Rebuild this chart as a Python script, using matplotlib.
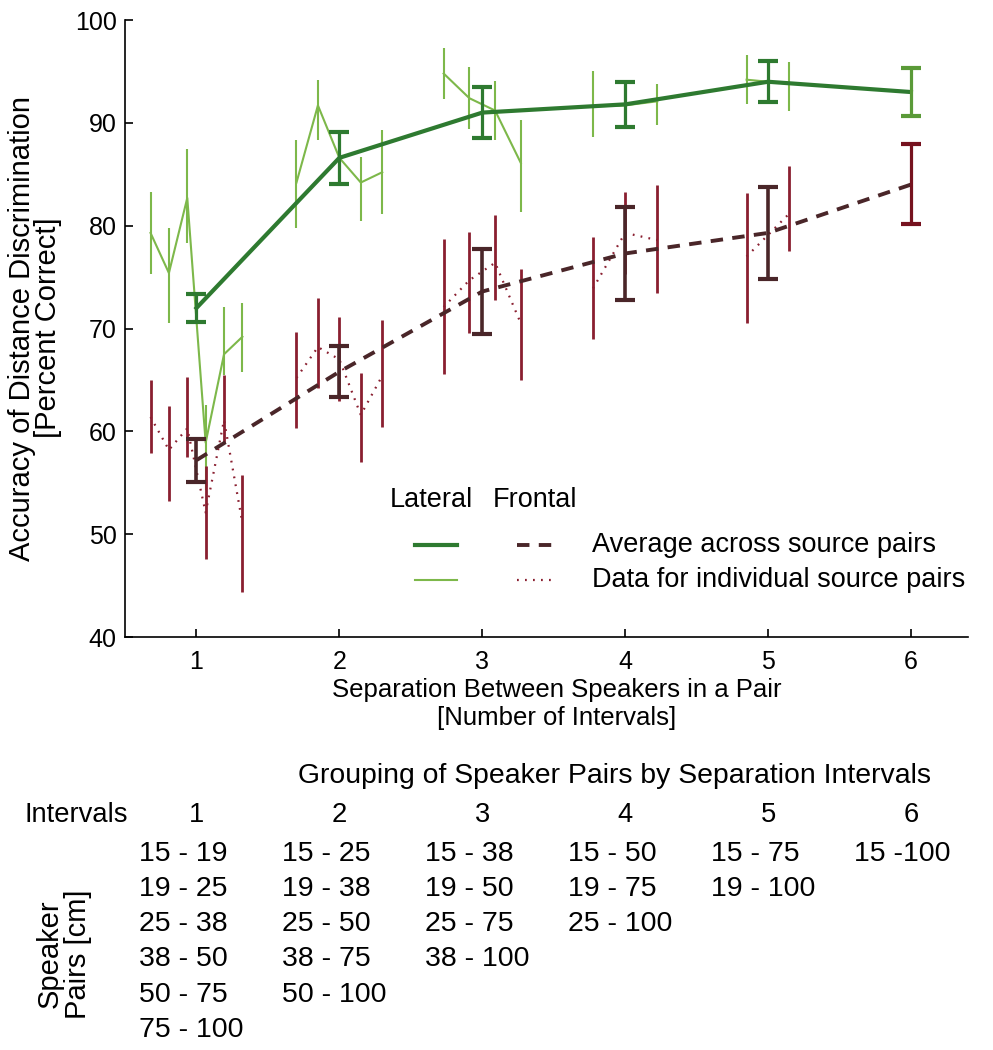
"""Distance discrimination accuracy vs speaker separation (lateral / frontal)."""
import numpy as np
import matplotlib
matplotlib.use("Agg")
import matplotlib.pyplot as plt
from matplotlib.transforms import blended_transform_factory

plt.rcParams["font.family"] = ["Liberation Sans", "DejaVu Sans"]

SEPARATIONS = [1, 2, 3, 4, 5, 6]

# average across source pairs (mean, half-width of error bar)
LAT_AVG = [72.0, 86.6, 91.0, 91.8, 94.0, 93.0]
LAT_AVG_ERR = [1.4, 2.5, 2.5, 2.2, 2.0, 2.3]
FRO_AVG = [57.2, 65.8, 73.6, 77.3, 79.3, 84.0]
FRO_AVG_ERR = [2.1, 2.5, 4.1, 4.5, 4.5, 3.8]

# individual source pairs, one list per separation
LAT_PAIR = [[79.3, 75.4, 82.7, 58.9, 67.5, 69.2],
            [84.2, 91.7, 86.6, 84.2, 85.2],
            [94.8, 92.4, 91.2, 86.1],
            [91.6, 91.7, 92.1],
            [94.2, 93.8],
            [93.0]]
LAT_PAIR_LO = [[75.3, 70.5, 78.3, 54.3, 65.5, 65.8],
               [79.8, 88.3, 84.5, 80.5, 81.1],
               [92.3, 89.4, 88.3, 81.3],
               [88.6, 89.8, 89.8],
               [91.8, 91.2],
               [90.7]]
LAT_PAIR_HI = [[83.3, 79.8, 87.5, 62.6, 72.1, 72.5],
               [88.3, 94.2, 88.7, 86.7, 89.3],
               [97.3, 95.4, 94.1, 90.3],
               [95.0, 93.6, 93.8],
               [96.6, 95.9],
               [95.3]]

FRO_PAIR = [[61.4, 58.2, 60.3, 52.1, 61.1, 51.1],
            [65.2, 68.2, 67.0, 61.6, 65.4],
            [72.1, 74.7, 76.4, 70.5],
            [73.9, 79.3, 78.6],
            [77.0, 81.2],
            [84.0]]
FRO_PAIR_LO = [[57.9, 53.2, 57.5, 47.6, 58.9, 44.4],
               [60.3, 64.2, 63.0, 57.0, 60.4],
               [65.6, 69.6, 72.8, 65.0],
               [69.0, 75.3, 73.5],
               [70.5, 77.5],
               [80.2]]
FRO_PAIR_HI = [[65.0, 62.5, 65.3, 56.6, 65.5, 55.8],
               [69.7, 73.0, 71.1, 65.7, 70.8],
               [78.7, 79.4, 81.0, 75.8],
               [78.9, 83.3, 84.0],
               [83.2, 85.8],
               [87.9]]

# grouping table under the plot
PAIRS_CM = [["15 - 19", "19 - 25", "25 - 38", "38 - 50", "50 - 75", "75 - 100"],
            ["15 - 25", "19 - 38", "25 - 50", "38 - 75", "50 - 100"],
            ["15 - 38", "19 - 50", "25 - 75", "38 - 100"],
            ["15 - 50", "19 - 75", "25 - 100"],
            ["15 - 75", "19 - 100"],
            ["15 -100"]]

DARK_GREEN = "#2e7a30"
LIGHT_GREEN = "#7db84a"
MID_GREEN = "#5a9a38"
DARK_RED = "#8a1f30"
BROWN = "#4a2629"
MID_RED = "#76121f"


def pair_offsets(n):
    return (np.arange(n) - (n - 1) / 2) * 0.9 / (n + 1)


def draw_pairs(ax, ys, los, his, color, mid_color, line_kw):
    for sep, y, lo, hi in zip(SEPARATIONS, ys, los, his):
        y = np.asarray(y)
        xs = sep + pair_offsets(len(y))
        err = [y - np.asarray(lo), np.asarray(hi) - y]
        if len(y) == 1:
            ax.errorbar(xs, y, yerr=err, fmt="none", ecolor=mid_color,
                        elinewidth=2.3, capsize=7, capthick=3, zorder=5)
            continue
        ax.errorbar(xs, y, yerr=err, fmt="none", ecolor=color,
                    elinewidth=line_kw["bar_lw"], capsize=0, zorder=2)
        ax.plot(xs, y, color=color, lw=line_kw["lw"], ls=line_kw["ls"],
                dashes=line_kw.get("dashes", (None, None)), zorder=2)


fig = plt.figure(figsize=(9.93, 10.5), dpi=100)
ax = fig.add_axes([0.1259, 0.3933, 0.849, 0.5876])

draw_pairs(ax, LAT_PAIR, LAT_PAIR_LO, LAT_PAIR_HI, LIGHT_GREEN, MID_GREEN,
           {"bar_lw": 1.5, "lw": 1.5, "ls": "-"})
draw_pairs(ax, FRO_PAIR, FRO_PAIR_LO, FRO_PAIR_HI, DARK_RED, MID_RED,
           {"bar_lw": 2.0, "lw": 1.6, "ls": ":", "dashes": (0.8, 2.8)})

ax.errorbar(SEPARATIONS[:-1], LAT_AVG[:-1], yerr=LAT_AVG_ERR[:-1], fmt="none",
            ecolor=DARK_GREEN, elinewidth=2.3, capsize=7, capthick=3, zorder=4)
ax.plot(SEPARATIONS, LAT_AVG, color=DARK_GREEN, lw=3, zorder=4)
ax.errorbar(SEPARATIONS[:-1], FRO_AVG[:-1], yerr=FRO_AVG_ERR[:-1], fmt="none",
            ecolor=BROWN, elinewidth=2.6, capsize=7, capthick=3, zorder=4)
ax.plot(SEPARATIONS, FRO_AVG, color=BROWN, lw=2.8, dashes=(3.2, 2.4), zorder=4)

ax.set_xlim(0.5, 6.4)
ax.set_ylim(40, 100)
ax.set_xticks(SEPARATIONS)
ax.set_yticks(np.arange(40, 101, 10))
ax.tick_params(direction="in", length=6, width=1.2, labelsize=18, pad=6)
ax.tick_params(axis="x", pad=9)
for s in ["top", "right"]:
    ax.spines[s].set_visible(False)
for s in ["left", "bottom"]:
    ax.spines[s].set_linewidth(1.2)

# axis labels
fig.text(0.035, 0.6875, "Accuracy of Distance Discrimination\n[Percent Correct]",
         rotation=90, ha="center", va="center", ma="center", fontsize=21,
         linespacing=0.92)
fig.text(0.561, 0.3295, "Separation Between Speakers in a Pair\n[Number of Intervals]",
         ha="center", va="center", ma="center", fontsize=18.5, linespacing=1.22)

# legend drawn by hand
LEG_FS = 19.5
ax.text(0.314, 0.222, "Lateral", transform=ax.transAxes, fontsize=LEG_FS,
        ha="left", va="center")
ax.text(0.4365, 0.222, "Frontal", transform=ax.transAxes, fontsize=LEG_FS,
        ha="left", va="center")
ax.plot([0.344, 0.394], [0.149, 0.149], transform=ax.transAxes,
        color=DARK_GREEN, lw=3, clip_on=False)
ax.plot([0.344, 0.394], [0.0924, 0.0924], transform=ax.transAxes,
        color=LIGHT_GREEN, lw=1.5, clip_on=False)
ax.plot([0.465, 0.512], [0.149, 0.149], transform=ax.transAxes,
        color=BROWN, lw=2.8, dashes=(3.2, 2.4), clip_on=False)
ax.plot([0.465, 0.512], [0.0924, 0.0924], transform=ax.transAxes,
        color=DARK_RED, lw=1.6, dashes=(0.8, 2.8), clip_on=False)
ax.text(0.554, 0.149, "Average across source pairs", transform=ax.transAxes,
        fontsize=LEG_FS, ha="left", va="center")
ax.text(0.554, 0.0924, "Data for individual source pairs", transform=ax.transAxes,
        fontsize=LEG_FS, ha="left", va="center")

# grouping table, columns follow the x axis
trans = blended_transform_factory(ax.transData, fig.transFigure)
fig.text(0.619, 0.2605, "Grouping of Speaker Pairs by Separation Intervals",
         ha="center", va="center", fontsize=20.4)
fig.text(0.025, 0.2238, "Intervals", ha="left", va="center", fontsize=19.7)
for sep, pairs in zip(SEPARATIONS, PAIRS_CM):
    ax.text(sep, 0.2238, str(sep), transform=trans, ha="center", va="center",
            fontsize=19.7, clip_on=False)
    for i, p in enumerate(pairs):
        ax.text(sep - 0.4, 0.1868 - i * 0.0335, p, transform=trans,
                ha="left", va="center", fontsize=20.5, clip_on=False)
fig.text(0.0645, 0.0914, "Speaker\nPairs [cm]", rotation=90, ha="center",
         va="center", ma="center", fontsize=21, linespacing=1.0)

fig.savefig("out.png", dpi=100)
